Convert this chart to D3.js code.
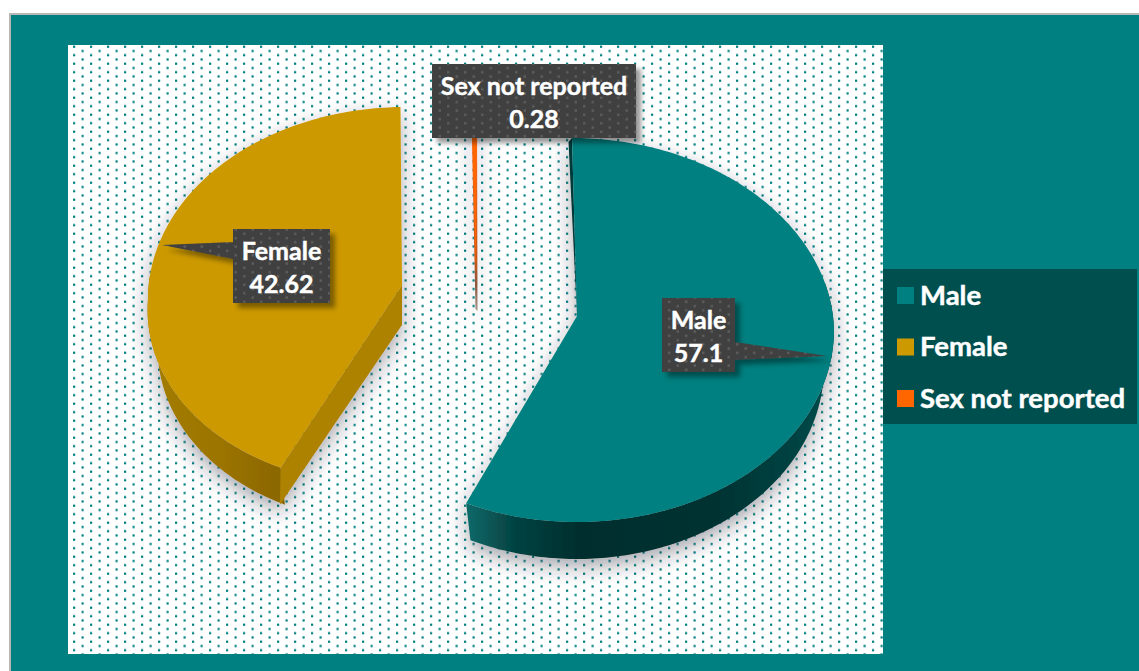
<!DOCTYPE html>
<html><head><meta charset="utf-8">
<style>html,body{margin:0;padding:0;background:#fff;overflow:hidden}svg{display:block}text{font-family:Lato,"Open Sans",sans-serif;font-weight:700;fill:#fff;stroke:#fff;stroke-width:.45px}</style>
<script src="https://cdn.jsdelivr.net/npm/d3@7"></script></head><body><script>
const categories=["Male","Female","Sex not reported"];
const values=[57.1,42.62,0.28];
const colors=["#008080","#cc9900","#ff6600"];

const W=1139,H=671,RX=257,RY=192,RXL=247,DEPTH=37,APEX_DROP=14;
const sliceLayout=[
 {ax:577,apx:577,ay:316,ryF:192,skewB:.026,skewF:0,wall:"gradMale",cut:null},
 {ax:405,apx:402,ay:285,ryF:187,skewB:0,skewF:-.08,wall:"gradFemale",cut:"#ad8200"},
 {ax:476,apx:476,ay:272,ryF:192,skewB:0,skewF:0,wall:"gradSliver",cut:null}
];
const svg=d3.select("body").append("svg").attr("width",W).attr("height",H);
const defs=svg.append("defs");
function dots(id,bg,fg,s){
 const p=defs.append("pattern").attr("id",id).attr("patternUnits","userSpaceOnUse")
  .attr("x",68).attr("y",45).attr("width",17).attr("height",8.5);
 if(bg)p.append("rect").attr("width",17).attr("height",8.5).attr("fill",bg);
 [[5,.6],[13.5,4.9]].forEach(([x,y])=>p.append("rect").attr("x",x).attr("y",y).attr("width",s).attr("height",s).attr("fill",fg));
}
dots("bgDots","#fff","#008080",2.2);
dots("boxDots","#3f3f3f","#5c5c5c",2.5);
function grad(id,stops,x1,x2,y1,y2){
 const g=defs.append("linearGradient").attr("id",id).attr("gradientUnits","userSpaceOnUse")
  .attr("x1",x1).attr("x2",x2).attr("y1",y1).attr("y2",y2);
 stops.forEach(([o,c])=>g.append("stop").attr("offset",o).attr("stop-color",c));
}
grad("gradMale",[[0,"#0d6868"],[.13,"#054242"],[.3,"#032f2f"],[.65,"#033030"],[1,"#064a4a"]],468,830,0,0);
grad("gradFemale",[[0,"#a37c00"],[.5,"#9c7500"],[1,"#8a6600"]],150,283,0,0);
grad("gradSliver",[[0,"#ff6a10"],[.7,"#c9551a"],[.85,"#8a5a40"],[1,"#a89a90"]],0,0,137,312);
const sh=defs.append("filter").attr("id","shadow").attr("filterUnits","userSpaceOnUse")
 .attr("x",0).attr("y",0).attr("width",W).attr("height",H);
sh.append("feDropShadow").attr("dx",0).attr("dy",8).attr("stdDeviation",10).attr("flood-color","#20203a").attr("flood-opacity",.4);
const bs=defs.append("filter").attr("id","boxShadow").attr("filterUnits","userSpaceOnUse")
 .attr("x",0).attr("y",0).attr("width",W).attr("height",H);
bs.append("feDropShadow").attr("dx",5).attr("dy",5).attr("stdDeviation",2.5).attr("flood-color","#000").attr("flood-opacity",.4);

// page frame
svg.append("rect").attr("x",10).attr("y",14).attr("width",W).attr("height",H)
 .attr("fill","#008080").attr("stroke","#b7b7b7").attr("stroke-width",2);
svg.append("rect").attr("x",68).attr("y",45).attr("width",815).attr("height",609).attr("fill","url(#bgDots)");

// pie
const pie=d3.pie().sort(null).value(d=>d)(values);
function pt(L,a,lower){
 const cy=L.ay+APEX_DROP+(lower?DEPTH:0),rx=lower?RXL:RX;
 const c=Math.cos(a);
 let y=cy-c*(c>0?RY:L.ryF),x=L.ax+Math.sin(a)*rx;
 x+=(y>cy?L.skewF:L.skewB)*(y-cy);
 return [x,y];
}
const line=d3.line();
function samples(a0,a1){const n=Math.max(2,Math.ceil((a1-a0)*60));return d3.range(n+1).map(i=>a0+(a1-a0)*i/n);}
pie.forEach((s,i)=>{
 const L=sliceLayout[i],g=svg.append("g").attr("filter","url(#shadow)");
 const top=samples(s.startAngle,s.endAngle);
 const apex=[L.apx,L.ay],apexL=[L.apx,L.ay+DEPTH+3];
 if(i===0){
  const vis=samples(Math.PI*.42,s.endAngle);
  const pts=vis.map(a=>pt(L,a,false)).concat(vis.slice().reverse().map(a=>pt(L,a,true)));
  g.append("path").attr("d",line(pts)+"Z").attr("fill","url(#"+L.wall+")");
  const t=pt(L,s.startAngle,false);
  g.append("path").attr("d",line([[t[0]-3.5,t[1]+4],apex,t])+"Z").attr("fill","#033a3a");
 } else if(i===1){
  const vis=samples(s.startAngle,Math.PI*1.54);
  const pts=vis.map(a=>pt(L,a,false)).concat(vis.slice().reverse().map(a=>pt(L,a,true)));
  g.append("path").attr("d",line(pts)+"Z").attr("fill","url(#"+L.wall+")");
  const a=pt(L,s.startAngle,false),b=pt(L,s.startAngle,true);
  g.append("path").attr("d",line([apex,apexL,[b[0]-5,b[1]],a])+"Z").attr("fill",L.cut);
 } else {
  const t0=pt(L,s.startAngle,false);
  g.append("path").attr("d",line([[t0[0]-.5,t0[1]],[L.apx+1,t0[1]],[L.apx+1.5,L.ay+DEPTH+2],[L.apx-.5,L.ay+DEPTH]])+"Z").attr("fill","url(#gradSliver)");
 }
 g.append("path").attr("d",line([apex].concat(top.map(a=>pt(L,a,false))))+"Z").attr("fill",colors[i]);
});

// data labels
const labelBoxes=[
 {x:662,y:298,w:73,h:74,ptr:[[735,342],[827,356],[735,360]]},
 {x:233,y:229,w:97,h:74,ptr:[[233,242],[162,245],[233,259]]},
 {x:432,y:64,w:204,h:74,ptr:null}
];
labelBoxes.forEach((b,i)=>{
 const g=svg.append("g");
 const outline=d3.path();
 outline.rect(b.x,b.y,b.w,b.h);
 let d=outline.toString();
 if(b.ptr)d+=line(b.ptr)+"Z";
 g.append("path").attr("d",d).attr("fill","url(#boxDots)").attr("filter","url(#boxShadow)");
 const cx=b.x+b.w/2;
 g.append("text").attr("x",cx).attr("y",b.y+31).attr("text-anchor","middle").attr("font-size",25).text(categories[i]);
 g.append("text").attr("x",cx).attr("y",b.y+64).attr("text-anchor","middle").attr("font-size",25).text(values[i]);
});

// legend
svg.append("rect").attr("x",883).attr("y",269).attr("width",254).attr("height",155).attr("fill","#004f4f");
const ly=d3.scalePoint().domain(categories).range([295.5,398.5]);
categories.forEach((c,i)=>{
 svg.append("rect").attr("x",897).attr("y",ly(c)-8.5).attr("width",17).attr("height",17).attr("fill",colors[i]);
 svg.append("text").attr("x",920).attr("y",ly(c)+9).attr("font-size",27.5).text(c);
});
</script></body></html>
